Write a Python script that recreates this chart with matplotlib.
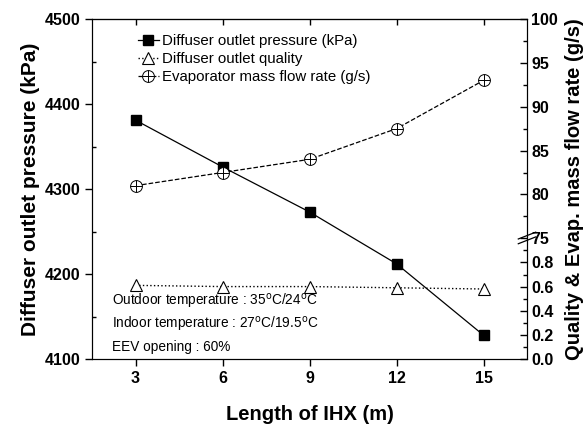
import numpy as np
import matplotlib.pyplot as plt
from matplotlib.ticker import FixedLocator, NullFormatter

plt.rcParams['font.family'] = ['Liberation Sans', 'DejaVu Sans']

# data
ihx_length = [3, 6, 9, 12, 15]
pressure = [4381, 4326, 4273, 4212, 4128]
quality = [0.61, 0.60, 0.60, 0.59, 0.58]
mass_flow = [81.0, 82.5, 84.0, 87.5, 93.0]

# broken right axis: 0..1 (quality) below, 75..100 (mass flow) above
FB = 0.355  # axes fraction where the break sits


def fwd(v):
    v = np.asarray(v, dtype=float)
    low = v * FB
    high = FB + (v - 75.0) / 25.0 * (1 - FB)
    return np.where(v <= 1.0, low, np.where(v < 75.0, FB, high))


def inv(f):
    f = np.asarray(f, dtype=float)
    return np.where(f <= FB, f / FB, 75.0 + (f - FB) / (1 - FB) * 25.0)


fig = plt.figure(figsize=(5.85, 4.26), dpi=100)
ax = fig.add_axes([92 / 585, 1 - 359 / 426, 435 / 585, 340 / 426])
ax2 = ax.twinx()

l1, = ax.plot(ihx_length, pressure, '-', color='black', lw=0.9,
              marker='s', ms=7, mfc='black', mec='black')
ax.set_xlim(1.5, 16.5)
ax.set_ylim(4100, 4500)
ax.set_xticks(ihx_length)
ax.set_yticks([4100, 4200, 4300, 4400, 4500])
ax.yaxis.set_minor_locator(FixedLocator([4150, 4250, 4350, 4450]))
ax.tick_params(axis='y', which='major', direction='out', length=5, width=1)
ax.tick_params(axis='y', which='minor', direction='in', length=3, width=1)
ax.tick_params(axis='x', which='major', direction='out', length=5, width=1)
for lab in ax.get_xticklabels() + ax.get_yticklabels():
    lab.set_fontweight('bold')
    lab.set_fontsize(11.5)
ax.set_xlabel('Length of IHX (m)', fontsize=14.5, fontweight='bold', labelpad=14)
ax.set_ylabel('Diffuser outlet pressure (kPa)', fontsize=15, fontweight='bold',
              labelpad=3)

# inward ticks along the top edge
top = ax.secondary_xaxis('top')
top.set_xticks(ihx_length)
top.tick_params(direction='in', length=4, width=1, labeltop=False)

ax2.set_yscale('function', functions=(fwd, inv))
l2, = ax2.plot(ihx_length, quality, ':', color='black', lw=1,
               marker='^', ms=9, mfc='white', mec='black', mew=0.8)
l3, = ax2.plot(ihx_length, mass_flow, '--', color='black', lw=0.9,
               marker='o', ms=8.5, mfc='white', mec='black', mew=0.7)
l3b, = ax2.plot(ihx_length, mass_flow, ls='none', marker='+', ms=8.5,
                mec='black', mew=0.7)
ax2.set_ylim(0, 100)
right_ticks = [0.0, 0.2, 0.4, 0.6, 0.8, 75, 80, 85, 90, 95, 100]
right_labels = ['0.0', '0.2', '0.4', '0.6', '0.8', '75', '80', '85', '90', '95', '100']
ax2.yaxis.set_major_locator(FixedLocator(right_ticks))
ax2.set_yticklabels(right_labels)
ax2.yaxis.set_minor_locator(FixedLocator([0.1, 0.3, 0.5, 0.7, 0.9,
                                          77.5, 82.5, 87.5, 92.5, 97.5]))
ax2.yaxis.set_minor_formatter(NullFormatter())
ax2.tick_params(axis='y', which='major', direction='in', length=5, width=1, pad=3)
ax2.tick_params(axis='y', which='minor', direction='in', length=3, width=1)
for lab in ax2.get_yticklabels():
    lab.set_fontweight('bold')
    lab.set_fontsize(11.5)
ax2.set_ylabel('Quality & Evap. mass flow rate (g/s)', fontsize=14.5,
               fontweight='bold', labelpad=5)

# break mark on right axis
for dy in (-0.006, 0.008):
    ax2.plot([0.98, 1.02], [FB + dy - 0.01, FB + dy + 0.01], color='black',
             lw=0.9, transform=ax2.transAxes, clip_on=False)

leg = ax.legend([l1, l2, (l3, l3b)],
                ['Diffuser outlet pressure (kPa)', 'Diffuser outlet quality',
                 'Evaporator mass flow rate (g/s)'],
                loc='upper left', bbox_to_anchor=(0.105, 0.955), frameon=False,
                fontsize=10.8, handlelength=1.4, handletextpad=0.2,
                labelspacing=0.25, borderaxespad=0.0, borderpad=0.0)

notes = [r'Outdoor temperature : 35$^{\rm o}$C/24$^{\rm o}$C',
         r'Indoor temperature : 27$^{\rm o}$C/19.5$^{\rm o}$C',
         'EEV opening : 60%']
for i, t in enumerate(notes):
    ax.text(0.045, 0.17 - i * 0.0675, t, transform=ax.transAxes, fontsize=9.8,
            va='center', ha='left')

fig.savefig('out.png', dpi=100)
